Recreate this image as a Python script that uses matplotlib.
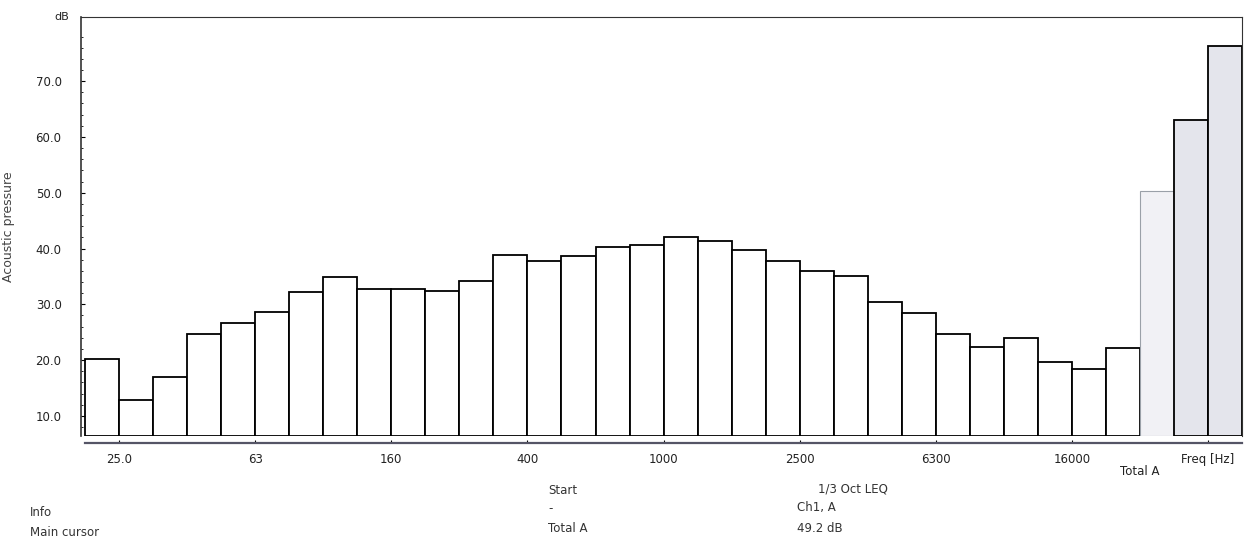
import numpy as np
import matplotlib.pyplot as plt

# 1/3 octave bands, 20 Hz .. 20 kHz, then the three total bars
bands = ['20', '25.0', '31.5', '40', '50', '63', '80', '100', '125', '160',
         '200', '250', '315', '400', '500', '630', '800', '1000', '1250', '1600',
         '2000', '2500', '3150', '4000', '5000', '6300', '8000', '10000', '12500',
         '16000', '20000']
leq = [20.2, 12.8, 17.0, 24.6, 26.7, 28.7, 32.2, 34.9, 32.7, 32.7,
       32.4, 34.2, 38.8, 37.7, 38.6, 40.2, 40.6, 42.0, 41.3, 39.8,
       37.7, 36.0, 35.0, 30.5, 28.4, 24.7, 22.4, 24.0, 19.6, 18.5, 22.1]
totals = [50.3, 63.0, 76.3]

tick_bands = ['25.0', '63', '160', '400', '1000', '2500', '6300', '16000']

base = 6.4  # bottom of the dB scale

fig = plt.figure(figsize=(12.58, 5.44), dpi=100)
ax = fig.add_axes([0.0644, 0.1985, 0.9229, 0.7703])

n = len(bands)
x = np.arange(n)
ax.bar(x, np.array(leq) - base, width=1.0, align='edge', bottom=base,
       color='white', edgecolor='black', linewidth=1.3)
xt = np.arange(n, n + len(totals))
tot = np.array(totals) - base
ax.bar(xt[0], tot[0], width=1.0, align='edge', bottom=base, color='#f1f1f5',
       edgecolor='#9aa0a8', linewidth=0.8)
ax.bar(xt[1:], tot[1:], width=1.0, align='edge', bottom=base, color='#e4e5ec',
       edgecolor='black', linewidth=1.3)

ax.set_xlim(-0.12, n + len(totals))
ax.set_ylim(base, 81.5)

ticks = [bands.index(b) for b in tick_bands] + [n + 2]
ax.set_xticks(ticks)
ax.set_xticklabels(tick_bands + ['Freq [Hz]'])
ax.text(n, -0.085, 'Total A', transform=ax.get_xaxis_transform(),
        ha='center', va='center', fontsize=8.5, color='#222222')

yt = np.arange(10, 80, 10)
ax.set_yticks(yt)
ax.set_yticklabels(['%.1f' % v for v in yt])
ax.set_yticks(np.arange(8, 80, 2), minor=True)
ax.tick_params(axis='both', labelsize=8.5, labelcolor='#222222')
ax.tick_params(axis='y', which='major', length=3, direction='in', pad=14)
ax.tick_params(axis='y', which='minor', length=1.5, direction='in')
ax.tick_params(axis='x', length=2, direction='in', pad=7)

ax.spines['bottom'].set_position(('outward', 5))
ax.spines['bottom'].set_bounds(0, n + len(totals))
ax.spines['bottom'].set_color('#555566')
ax.spines['bottom'].set_linewidth(1.6)
ax.spines['left'].set_color('#333333')
ax.spines['left'].set_linewidth(1.2)
ax.spines['top'].set_color('#333333')
ax.spines['right'].set_color('#333333')

ax.set_ylabel('Acoustic pressure', fontsize=9, color='#444444')
ax.yaxis.set_label_coords(-0.057, 0.5)
ax.text(-0.01, 1.0, 'dB', transform=ax.transAxes, ha='right', va='center',
        fontsize=8, color='#222222')

# info block under the chart
fs = 8.5
fig.text(30 / 1258, 1 - 512 / 544, 'Info', fontsize=fs, va='center', color='#333333')
fig.text(30 / 1258, 1 - 532 / 544, 'Main cursor', fontsize=fs, va='center', color='#333333')
fig.text(548 / 1258, 1 - 490 / 544, 'Start', fontsize=fs, va='center', color='#333333')
fig.text(548 / 1258, 1 - 509 / 544, '-', fontsize=fs, va='center', color='#333333')
fig.text(548 / 1258, 1 - 528 / 544, 'Total A', fontsize=fs, va='center', color='#333333')
fig.text(818 / 1258, 1 - 489 / 544, '1/3 Oct LEQ', fontsize=fs, va='center', color='#333333')
fig.text(797 / 1258, 1 - 508 / 544, 'Ch1, A', fontsize=fs, va='center', color='#333333')
fig.text(797 / 1258, 1 - 528 / 544, '49.2 dB', fontsize=fs, va='center', color='#333333')

fig.savefig('out.png', dpi=100)
